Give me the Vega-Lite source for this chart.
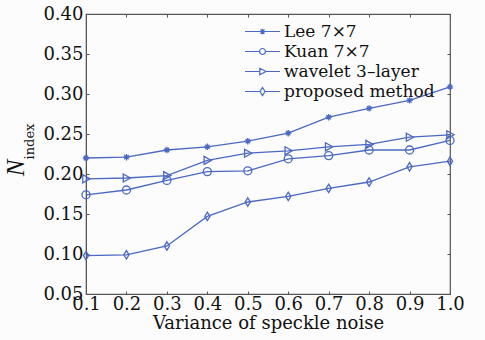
{
  "$schema": "https://vega.github.io/schema/vega-lite/v6.json",
  "width": 364,
  "height": 280,
  "autosize": {"type": "none"},
  "padding": {"left": 86, "top": 14, "right": 35, "bottom": 46},
  "background": "#fcfcfc",
  "config": {
    "font": "DejaVu Serif",
    "view": {"stroke": "#555", "strokeWidth": 1.2},
    "axis": {"labelFont": "DejaVu Serif", "titleFont": "DejaVu Serif", "labelFontSize": 18, "titleFontSize": 18, "titleFontWeight": "normal", "labelColor": "#111", "titleColor": "#111", "domainColor": "#555", "tickColor": "#555", "grid": false}
  },
  "title": {"text": "N", "orient": "left", "fontSize": 25, "fontStyle": "italic", "font": "Liberation Serif", "fontWeight": "normal", "color": "#111", "anchor": "middle", "offset": -6, "dx": -14},
  "data": {"values": [
    {"m": "Lee 7×7", "x": 0.1, "y": 0.220}, {"m": "Lee 7×7", "x": 0.2, "y": 0.221}, {"m": "Lee 7×7", "x": 0.3, "y": 0.230}, {"m": "Lee 7×7", "x": 0.4, "y": 0.234}, {"m": "Lee 7×7", "x": 0.5, "y": 0.241}, {"m": "Lee 7×7", "x": 0.6, "y": 0.251}, {"m": "Lee 7×7", "x": 0.7, "y": 0.271}, {"m": "Lee 7×7", "x": 0.8, "y": 0.282}, {"m": "Lee 7×7", "x": 0.9, "y": 0.292}, {"m": "Lee 7×7", "x": 1.0, "y": 0.309},
    {"m": "Kuan 7×7", "x": 0.1, "y": 0.174}, {"m": "Kuan 7×7", "x": 0.2, "y": 0.180}, {"m": "Kuan 7×7", "x": 0.3, "y": 0.192}, {"m": "Kuan 7×7", "x": 0.4, "y": 0.203}, {"m": "Kuan 7×7", "x": 0.5, "y": 0.204}, {"m": "Kuan 7×7", "x": 0.6, "y": 0.219}, {"m": "Kuan 7×7", "x": 0.7, "y": 0.223}, {"m": "Kuan 7×7", "x": 0.8, "y": 0.230}, {"m": "Kuan 7×7", "x": 0.9, "y": 0.230}, {"m": "Kuan 7×7", "x": 1.0, "y": 0.242},
    {"m": "wavelet 3–layer", "x": 0.1, "y": 0.194}, {"m": "wavelet 3–layer", "x": 0.2, "y": 0.195}, {"m": "wavelet 3–layer", "x": 0.3, "y": 0.198}, {"m": "wavelet 3–layer", "x": 0.4, "y": 0.217}, {"m": "wavelet 3–layer", "x": 0.5, "y": 0.226}, {"m": "wavelet 3–layer", "x": 0.6, "y": 0.229}, {"m": "wavelet 3–layer", "x": 0.7, "y": 0.234}, {"m": "wavelet 3–layer", "x": 0.8, "y": 0.237}, {"m": "wavelet 3–layer", "x": 0.9, "y": 0.246}, {"m": "wavelet 3–layer", "x": 1.0, "y": 0.249},
    {"m": "proposed method", "x": 0.1, "y": 0.098}, {"m": "proposed method", "x": 0.2, "y": 0.099}, {"m": "proposed method", "x": 0.3, "y": 0.110}, {"m": "proposed method", "x": 0.4, "y": 0.147}, {"m": "proposed method", "x": 0.5, "y": 0.165}, {"m": "proposed method", "x": 0.6, "y": 0.172}, {"m": "proposed method", "x": 0.7, "y": 0.182}, {"m": "proposed method", "x": 0.8, "y": 0.190}, {"m": "proposed method", "x": 0.9, "y": 0.209}, {"m": "proposed method", "x": 1.0, "y": 0.216}
  ]},
  "encoding": {
    "x": {"field": "x", "type": "quantitative", "scale": {"domain": [0.1, 1.0], "nice": false, "zero": false}},
    "y": {"field": "y", "type": "quantitative", "scale": {"domain": [0.05, 0.4], "nice": false, "zero": false}}
  },
  "layer": [
    {
      "mark": {"type": "line", "color": "#4a69c2", "strokeWidth": 1.3},
      "encoding": {
        "detail": {"field": "m"},
        "x": {"field": "x", "type": "quantitative", "axis": {"orient": "bottom", "values": [0.1,0.2,0.3,0.4,0.5,0.6,0.7,0.8,0.9,1.0], "format": ".1f", "tickSize": -3, "labelPadding": 4, "title": "Variance of speckle noise", "titlePadding": 1, "labelFlush": false}},
        "y": {"field": "y", "type": "quantitative", "axis": {"orient": "left", "values": [0.05,0.1,0.15,0.2,0.25,0.3,0.35,0.4], "format": ".2f", "tickSize": -3, "labelPadding": 6, "title": "index", "titleFontSize": 13, "titleX": -50, "titleY": 127, "titleBaseline": "bottom", "labelFlush": false}}
      }
    },
    {
      "mark": {"type": "point", "color": "#4a69c2", "filled": false, "strokeWidth": 1.3, "size": 64, "opacity": 1},
      "encoding": {
        "x": {"field": "x", "type": "quantitative", "axis": {"orient": "top", "values": [0.1,0.2,0.3,0.4,0.5,0.6,0.7,0.8,0.9,1.0], "labels": false, "tickSize": -3, "title": null, "domain": false}},
        "y": {"field": "y", "type": "quantitative", "axis": {"orient": "right", "values": [0.05,0.1,0.15,0.2,0.25,0.3,0.35,0.4], "labels": false, "tickSize": -3, "title": null, "domain": false}},
        "shape": {"field": "m", "type": "nominal", "legend": null, "scale": {"domain": ["Lee 7×7", "Kuan 7×7", "wavelet 3–layer", "proposed method"], "range": ["M-0.8,0L0.8,0M0,-0.8L0,0.8M-0.55,-0.55L0.55,0.55M-0.55,0.55L0.55,-0.55", "circle", "M-0.8,-1L1,0L-0.8,1Z", "M0,-1.05L0.65,0L0,1.05L-0.65,0Z"]}}
      }
    },
    {
      "mark": {"type": "point", "color": "#4a69c2", "filled": false, "strokeWidth": 1.3, "size": 100, "opacity": 0},
      "encoding": {
        "x": {"field": "x", "type": "quantitative", "axis": null},
        "y": {"field": "y", "type": "quantitative", "axis": null},
        "shape": {"field": "m", "type": "nominal", "scale": {"domain": ["Lee 7×7", "Kuan 7×7", "wavelet 3–layer", "proposed method"], "range": [
          "M-3.5,0L3.5,0M-0.55,0L0.55,0M0,-0.55L0,0.55M-0.4,-0.4L0.4,0.4M-0.4,0.4L0.4,-0.4",
          "M-3.5,0L-0.6,0M0.6,0L3.5,0M-0.6,0A0.6,0.6 0 1,1 0.6,0A0.6,0.6 0 1,1 -0.6,0",
          "M-3.5,0L-0.55,0M0.7,0L3.5,0M-0.55,-0.65L0.7,0L-0.55,0.65Z",
          "M-3.5,0L-0.5,0M0.5,0L3.5,0M0,-0.8L0.5,0L0,0.8L-0.5,0Z"]},
          "legend": {"title": null, "orient": "none", "legendX": 168, "legendY": 9, "labelFont": "DejaVu Serif", "labelFontSize": 17, "labelColor": "#111", "symbolSize": 100, "symbolStrokeColor": "#4a69c2", "symbolStrokeWidth": 1.2, "symbolFillColor": "transparent", "symbolOpacity": 1, "labelOffset": 13, "rowPadding": 2, "symbolLimit": 0,
            "encode": {"symbols": {"update": {"opacity": {"value": 1}, "stroke": {"value": "#4a69c2"}, "fill": {"value": "transparent"}}}}}
        }
      }
    }
  ],
  "resolve": {"axis": {"x": "independent", "y": "independent"}, "scale": {"shape": "independent"}}
}
